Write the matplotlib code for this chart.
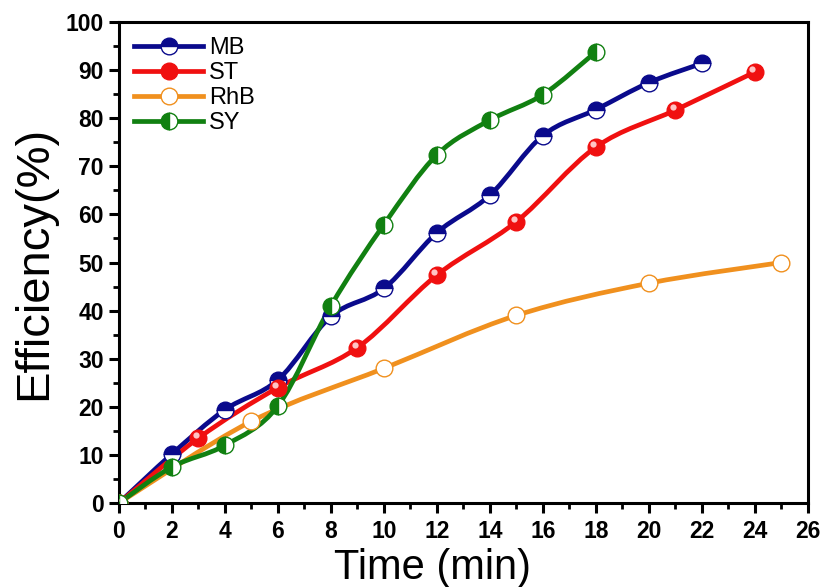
import numpy as np
import matplotlib
matplotlib.use("Agg")
import matplotlib.pyplot as plt
from matplotlib.path import Path
from matplotlib.patches import PathPatch
from matplotlib.lines import Line2D
from matplotlib.ticker import MultipleLocator
from matplotlib.transforms import ScaledTranslation

plt.rcParams['font.family'] = ['Liberation Sans', 'DejaVu Sans']

# Degradation efficiency (%) versus irradiation time (min)
mb_t = [0, 2, 4, 6, 8, 10, 12, 14, 16, 18, 20, 22]
mb_eff = [0, 10.2, 19.4, 25.6, 38.8, 44.6, 56.2, 64.0, 76.4, 81.8, 87.4, 91.4]

st_t = [0, 3, 6, 9, 12, 15, 18, 21, 24]
st_eff = [0, 13.5, 24.0, 32.3, 47.4, 58.5, 74.0, 81.7, 89.6]

rhb_t = [0, 5, 10, 15, 20, 25]
rhb_eff = [0, 17.0, 28.0, 39.0, 45.7, 50.0]

sy_t = [0, 2, 4, 6, 8, 10, 12, 14, 16, 18]
sy_eff = [0, 7.5, 12.0, 20.2, 41.0, 57.9, 72.4, 79.6, 84.9, 93.8]

labels = ['MB', 'ST', 'RhB', 'SY']
colors = ['#0a0a8c', '#f01010', '#f0901e', '#118011']

fig = plt.figure(figsize=(8.28, 5.87), dpi=100)
ax = fig.add_axes([0.1437, 0.1431, 0.832, 0.8194])


def smooth_path(x, y, k=6.0):
    """Catmull-Rom curve through the points, expressed as cubic Bezier segments."""
    pts = np.column_stack([np.asarray(x, float), np.asarray(y, float)])
    n = len(pts)
    verts = [pts[0]]
    codes = [Path.MOVETO]
    for i in range(n - 1):
        p0 = pts[i - 1] if i > 0 else pts[i]
        p1 = pts[i]
        p2 = pts[i + 1]
        p3 = pts[i + 2] if i + 2 < n else pts[i + 1]
        c1 = p1 + (p2 - p0) / k
        c2 = p2 - (p3 - p1) / k
        verts += [c1, c2, p2]
        codes += [Path.CURVE4] * 3
    return Path(verts, codes)


series = [
    (mb_t, mb_eff, dict(fillstyle='top', markerfacecolor=colors[0],
                         markerfacecoloralt='white')),
    (st_t, st_eff, dict(fillstyle='full', markerfacecolor=colors[1])),
    (rhb_t, rhb_eff, dict(fillstyle='full', markerfacecolor='white')),
    (sy_t, sy_eff, dict(fillstyle='left', markerfacecolor=colors[3],
                         markerfacecoloralt='white')),
]

ms = 12
lw = 3.4
handles = []
shine = ax.transData + ScaledTranslation(-2 / 72, 2 / 72, fig.dpi_scale_trans)
for (t, e, mk), c, lab in zip(series, colors, labels):
    ax.add_patch(PathPatch(smooth_path(t, e), facecolor='none', edgecolor=c,
                           lw=lw, capstyle='round', joinstyle='round', zorder=2))
    ax.plot(t, e, linestyle='none', marker='o', markersize=ms,
            markeredgecolor=c, markeredgewidth=1.0, zorder=3, **mk)
    if lab == 'ST':
        # glossy highlight on the red spheres
        ax.plot(t, e, linestyle='none', marker='o', markersize=4.5,
                markerfacecolor='#ffc4c4', markeredgecolor='none',
                zorder=4, transform=shine)
    handles.append(Line2D([], [], color=c, lw=lw, marker='o', markersize=ms,
                          markeredgecolor=c, markeredgewidth=1.0, **mk))

ax.set_xlim(0, 26)
ax.set_ylim(0, 100)
ax.xaxis.set_major_locator(MultipleLocator(2))
ax.xaxis.set_minor_locator(MultipleLocator(1))
ax.yaxis.set_major_locator(MultipleLocator(10))
ax.yaxis.set_minor_locator(MultipleLocator(5))

for s in ax.spines.values():
    s.set_linewidth(2.2)
ax.tick_params(which='major', direction='out', length=7, width=2.2,
               labelsize=16.5)
ax.tick_params(axis='x', which='major', pad=5)
ax.tick_params(axis='y', which='major', pad=4)
ax.tick_params(which='minor', direction='out', length=4, width=2.0)
ax.tick_params(top=False, right=False, which='both')
for lbl in ax.get_xticklabels() + ax.get_yticklabels():
    lbl.set_fontweight('bold')

ax.set_xlabel('Time (min)', fontsize=30)
ax.xaxis.set_label_coords(0.455, -0.093)
ax.xaxis.label.set_verticalalignment('top')
ax.set_ylabel('Efficiency(%)', fontsize=34, labelpad=7)

ax.legend(handles, labels, loc='upper left', frameon=False, fontsize=17,
          handlelength=2.9, handletextpad=0.25, labelspacing=0.12,
          borderaxespad=0.35, borderpad=0.3)

fig.savefig('out.png', dpi=100)
